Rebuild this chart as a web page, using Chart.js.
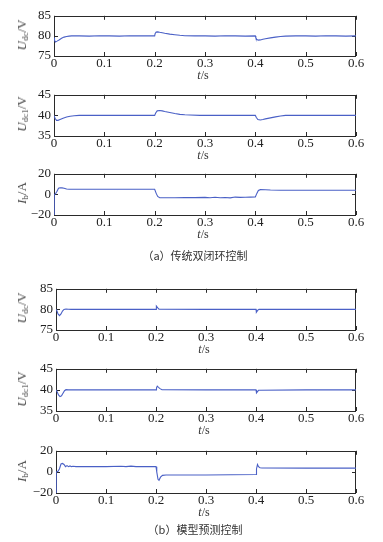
<!DOCTYPE html>
<html>
<head>
<meta charset="utf-8">
<script src="https://cdn.jsdelivr.net/npm/chart.js@4.4.1/dist/chart.umd.min.js"></script>
<style>
  html, body { margin: 0; padding: 0; background: #fff; }
  body { width: 383px; height: 542px; position: relative; overflow: hidden; }
  canvas { position: absolute; left: 0; }
  .ytitle { position: absolute; font-family: "Liberation Serif", serif; font-size: 13px; color: #444;
            transform: translate(-50%, -50%) rotate(-90deg); white-space: nowrap; }
  .ytitle sub { font-size: 9px; vertical-align: -2px; }
  .xtitle { position: absolute; font-family: "Liberation Serif", serif; font-size: 12px; color: #333;
            transform: translate(-50%, -50%); white-space: nowrap; }
  .caption { position: absolute; font-family: "Noto Sans CJK SC", sans-serif; font-size: 11px; color: #333;
             transform: translate(-50%, -50%); white-space: nowrap; }
</style>
</head>
<body>
<script>
// ---------------- DATA ----------------
// (a) traditional double closed loop control
const tTradUdc = [0,0.001,0.003,0.006,0.01,0.015,0.02,0.025,0.03,0.035,0.05,0.07,0.09,0.11,0.13,0.15,0.17,0.19,0.2,0.201,0.203,0.206,0.21,0.215,0.22,0.23,0.24,0.25,0.26,0.28,0.3,0.32,0.34,0.36,0.38,0.4,0.401,0.403,0.406,0.41,0.415,0.42,0.43,0.44,0.45,0.46,0.48,0.5,0.52,0.54,0.56,0.58,0.6];
const vTradUdc = [79.6,78.9,78.5,78.7,79.0,79.4,79.7,79.85,79.95,80.0,80.0,79.95,80.05,80.0,79.95,80.05,80.0,80.0,80.0,80.6,80.95,81.0,80.9,80.8,80.65,80.45,80.3,80.15,80.05,80.0,80.0,79.95,80.05,80.0,79.95,80.0,79.5,79.1,78.95,79.0,79.15,79.3,79.5,79.7,79.85,79.95,80.0,80.0,79.95,80.05,80.0,79.95,80.0];

const tTradUdc1 = [0,0.002,0.005,0.008,0.012,0.018,0.025,0.032,0.04,0.05,0.07,0.1,0.13,0.16,0.19,0.2,0.202,0.205,0.21,0.215,0.22,0.23,0.24,0.25,0.26,0.27,0.29,0.32,0.35,0.38,0.4,0.402,0.405,0.41,0.415,0.42,0.43,0.44,0.45,0.46,0.48,0.52,0.56,0.6];
const vTradUdc1 = [40.0,39.3,38.8,38.8,39.0,39.3,39.6,39.8,39.9,40.0,40.0,40.0,40.0,40.0,40.0,40.0,40.6,41.1,41.2,41.1,40.95,40.7,40.45,40.25,40.15,40.1,40.0,40.0,40.0,40.0,40.0,39.5,39.0,38.9,39.0,39.15,39.4,39.65,39.85,40.0,40.0,40.0,40.0,40.0];

const tTradIb = [0,0.0005,0.003,0.006,0.009,0.012,0.016,0.02,0.025,0.03,0.05,0.08,0.11,0.14,0.17,0.2,0.203,0.206,0.21,0.22,0.24,0.26,0.28,0.3,0.31,0.32,0.33,0.34,0.35,0.36,0.37,0.38,0.39,0.4,0.403,0.406,0.41,0.42,0.43,0.45,0.5,0.55,0.6];
const vTradIb = [-20,0,0.5,3,6,6.5,6.3,6,5.2,5,5,5,5,5,5,5,1,-2,-3.2,-3.3,-3.2,-3,-3.1,-2.9,-3.3,-2.8,-3.2,-3.0,-3.4,-2.6,-2.9,-2.7,-2.6,-2.5,1,3.8,4.6,4.5,4.2,4,4,4,4];

// (b) model predictive control
const tMpcUdc = [0,0.002,0.004,0.007,0.01,0.013,0.016,0.02,0.025,0.03,0.1,0.2,0.2005,0.201,0.202,0.204,0.206,0.3,0.4,0.4005,0.401,0.402,0.404,0.406,0.5,0.6];
const vMpcUdc = [80.0,79.6,78.9,78.5,78.9,79.6,80.0,80.1,80.05,80.0,80.0,80.0,80.4,80.8,80.6,80.3,80.05,80.0,80.0,79.6,79.3,79.5,79.85,80.0,80.0,80.0];

const tMpcUdc1 = [0,0.002,0.005,0.008,0.011,0.014,0.017,0.02,0.025,0.03,0.1,0.2,0.201,0.2025,0.205,0.208,0.212,0.3,0.4,0.4005,0.4015,0.403,0.405,0.5,0.6];
const vMpcUdc1 = [40,39.6,38.8,38.4,38.6,39.2,39.8,40.05,40,40,40,40,40.5,40.9,40.6,40.3,40.05,40,40,39.6,39.3,39.6,39.9,40,40];

const tMpcIb = [0,0.0005,0.004,0.007,0.01,0.013,0.016,0.019,0.022,0.025,0.028,0.031,0.034,0.04,0.1,0.13,0.14,0.15,0.16,0.2,0.2015,0.204,0.206,0.209,0.213,0.22,0.3,0.4,0.401,0.403,0.405,0.408,0.412,0.5,0.6];
const vMpcIb = [-20,0,0.5,3,7.5,8,7,5,6,5,5.7,5,5.3,5,5,5.4,5,5.5,5,5,0,-7,-8,-5,-3.3,-3,-3,-2.5,3,7,5,4,3.7,3.6,3.6];

const xTicks = [0, 0.1, 0.2, 0.3, 0.4, 0.5, 0.6];
const yRangeUdc = [75, 85], yStepUdc = 5;
const yRangeUdc1 = [35, 45], yStepUdc1 = 5;
const yRangeIb = [-20, 20], yStepIb = 20;

const captionA = "（a）传统双闭环控制";
const captionB = "（b）模型预测控制";

// ---------------- LAYOUT ----------------
const panels = [
  { t: tTradUdc,  v: vTradUdc,  range: yRangeUdc,  step: yStepUdc,  top: 13,  bottom: 56,  left: 54, ylabel: '<i>U</i><sub>dc</sub>/V' },
  { t: tTradUdc1, v: vTradUdc1, range: yRangeUdc1, step: yStepUdc1, top: 92,  bottom: 136, left: 54, ylabel: '<i>U</i><sub>dc1</sub>/V' },
  { t: tTradIb,   v: vTradIb,   range: yRangeIb,   step: yStepIb,   top: 171, bottom: 215, left: 54, ylabel: '<i>I</i><sub>b</sub>/A' },
  { t: tMpcUdc,   v: vMpcUdc,   range: yRangeUdc,  step: yStepUdc,  top: 286, bottom: 330, left: 56, ylabel: '<i>U</i><sub>dc</sub>/V' },
  { t: tMpcUdc1,  v: vMpcUdc1,  range: yRangeUdc1, step: yStepUdc1, top: 366, bottom: 411, left: 56, ylabel: '<i>U</i><sub>dc1</sub>/V' },
  { t: tMpcIb,    v: vMpcIb,    range: yRangeIb,   step: yStepIb,   top: 448, bottom: 493, left: 56, ylabel: '<i>I</i><sub>b</sub>/A' },
];
const RIGHT = 356, PADTOP = 8, XAXIS_H = 20;

const boxPlugin = {
  id: 'matlabBox',
  beforeDatasetsDraw(chart) {
    const { ctx, chartArea: a, scales } = chart;
    ctx.save();
    ctx.strokeStyle = '#2a2a2a';
    ctx.lineWidth = 1;
    ctx.beginPath();
    ctx.rect(Math.round(a.left) + 0.5, Math.round(a.top) + 0.5, Math.round(a.right - a.left) - 1, Math.round(a.bottom - a.top));
    ctx.stroke();
    ctx.beginPath();
    const L = 4;
    scales.x.ticks.forEach(tk => {
      const px = Math.round(scales.x.getPixelForValue(tk.value)) + 0.5;
      ctx.moveTo(px, a.bottom); ctx.lineTo(px, a.bottom - L);
      ctx.moveTo(px, a.top); ctx.lineTo(px, a.top + L);
    });
    scales.y.ticks.forEach(tk => {
      const py = Math.round(scales.y.getPixelForValue(tk.value)) + 0.5;
      ctx.moveTo(a.left, py); ctx.lineTo(a.left + L, py);
      ctx.moveTo(a.right, py); ctx.lineTo(a.right - L, py);
    });
    ctx.stroke();
    ctx.restore();
  }
};

function addDiv(cls, html, x, y) {
  const d = document.createElement('div');
  d.className = cls;
  d.innerHTML = html;
  d.style.left = x + 'px';
  d.style.top = y + 'px';
  document.body.appendChild(d);
}

const tickFont = { family: "'Liberation Serif', 'Times New Roman', serif", size: 13 };

function draw() {
  panels.forEach(p => {
    const h = p.bottom - p.top;
    const cv = document.createElement('canvas');
    const H = h + PADTOP + XAXIS_H;
    cv.width = 383; cv.height = H;
    cv.style.width = '383px'; cv.style.height = H + 'px';
    cv.style.top = (p.top - PADTOP) + 'px';
    document.body.appendChild(cv);

    new Chart(cv, {
      type: 'line',
      data: {
        datasets: [{
          data: p.t.map((t, i) => ({ x: t, y: p.v[i] })),
          borderColor: '#4a60c6',
          borderWidth: 1.1,
          pointRadius: 0,
          tension: 0,
          fill: false
        }]
      },
      options: {
        responsive: false,
        animation: false,
        devicePixelRatio: 1,
        layout: { padding: { top: PADTOP, right: 383 - RIGHT, left: 0, bottom: 0 } },
        plugins: { legend: { display: false }, tooltip: { enabled: false } },
        scales: {
          x: {
            type: 'linear', min: 0, max: 0.6,
            afterBuildTicks: s => { s.ticks = xTicks.map(v => ({ value: v })); },
            ticks: { color: '#222', font: tickFont, padding: 0, maxRotation: 0, autoSkip: false,
                     callback: v => (Math.abs(v) < 1e-9 ? '0' : Number(v).toFixed(1)) },
            grid: { display: false, drawTicks: false },
            border: { display: false },
            afterFit: s => { s.height = XAXIS_H; }
          },
          y: {
            type: 'linear', min: p.range[0], max: p.range[1],
            ticks: { stepSize: p.step, color: '#222', font: tickFont, padding: 3,
                     callback: v => String(v).replace('-', '\u2212') },
            grid: { display: false, drawTicks: false },
            border: { display: false },
            afterFit: s => { s.width = p.left; }
          }
        }
      },
      plugins: [boxPlugin]
    });

    addDiv('ytitle', p.ylabel, 22, (p.top + p.bottom) / 2);
    addDiv('xtitle', '<i>t</i>/s', (p.left + RIGHT) / 2 - 2, p.bottom + 19);
  });

  addDiv('caption', captionA, 195, 255);
  addDiv('caption', captionB, 195, 529);
}

Promise.all([
  document.fonts.load("13px 'Liberation Serif'"),
  document.fonts.load("italic 13px 'Liberation Serif'"),
  document.fonts.load("11px 'Noto Sans CJK SC'", "传统双闭环控制模型预测")
]).then(draw, draw);
</script>
</body>
</html>
